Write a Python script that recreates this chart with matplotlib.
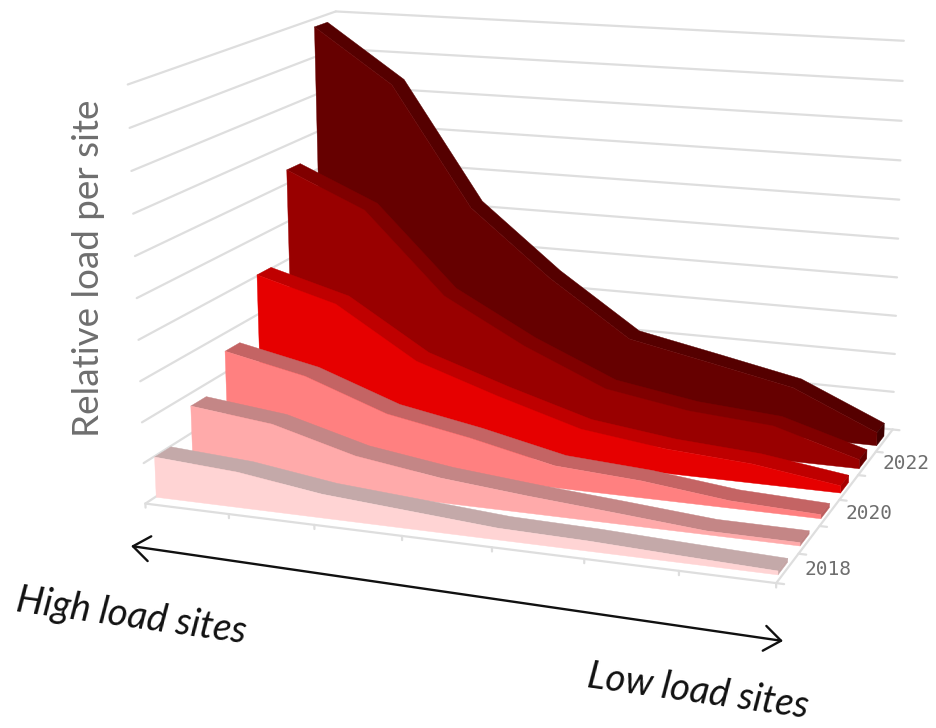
import numpy as np
import matplotlib
matplotlib.use("Agg")
import matplotlib.pyplot as plt
from mpl_toolkits.mplot3d.art3d import Poly3DCollection, Line3DCollection

W, H = 936, 728
years = ["2018", "2019", "2020", "2021", "2022", "2023"]
site_index = [0, 1, 2, 3, 4, 5, 6, 7]
load_2018 = [1.0, 0.87, 0.58, 0.43, 0.28, 0.24, 0.16, 0.09]
load_2019 = [1.7, 1.47, 0.91, 0.61, 0.42, 0.26, 0.09, 0.08]
load_2020 = [2.56, 2.13, 1.39, 1.01, 0.55, 0.42, 0.18, 0.1]
load_2021 = [4.05, 3.48, 2.2, 1.51, 0.89, 0.62, 0.48, 0.18]
load_2022 = [6.38, 5.48, 3.4, 2.28, 1.37, 1.02, 0.86, 0.23]
load_2023 = [9.81, 8.4, 5.29, 3.59, 2.16, 1.73, 1.29, 0.34]
values = [load_2018, load_2019, load_2020, load_2021, load_2022, load_2023]

front_colors = ["#FFD4D4", "#FFAAAA", "#FF8080", "#E60000", "#990000", "#660000"]
top_colors = ["#C4A9A9", "#C48686", "#C46464", "#BF0000", "#800000", "#550000"]
side_colors = ["#C4A5A5", "#BE8080", "#BC5E5E", "#A80000", "#660000", "#3F0000"]
FRONT, BACK = 0.27, 0.7
X_SCALE = 6.95 / 7

# camera: world (site, year, load) -> pixel, fitted from the box corners and ticks
cal = [((0,0,0),(146,503)),((1,0,0),(229,515)),((2,0,0),(314,526)),((3,0,0),(402,537)),((4,0,0),(490,548)),((5,0,0),(583,560)),((6,0,0),(677,572)),((7,0,0),(775,582)),
((7,1,0),(800,553)),((7,2,0),(822,525)),((7,3,0),(840,499)),((7,4,0),(857,475)),((7,5,0),(875,452)),((7,6,0),(892,431)),
((7,6,10),(903,43)),((7,6,9),(903,83)),((7,6,8),(902,122)),((7,6,7),(901,160)),((7,6,6),(900,199)),((7,6,5),(899,237)),((7,6,4),(897,275)),((7,6,3),(896,315)),((7,6,2),(895,353)),((7,6,1),(894,392)),
((0,0,10),(128,83)),((0,0,9),(130,127)),((0,0,8),(131,171)),((0,0,7),(133,213)),((0,0,6),(135,256)),((0,0,5),(136,298)),((0,0,4),(139,340)),((0,0,3),(141,381)),((0,0,2),(143,423)),((0,0,1),(145,463)),
((0,6,10),(335,12)),((0,6,9),(336,48)),((0,6,8),(337,86))]
rows = []; rhs = []
for (x, y, z), (u, v) in cal:
    rows.append([x, y, z, 1, 0, 0, 0, 0, -u*x, -u*y, -u*z]); rhs.append(u)
    rows.append([0, 0, 0, 0, x, y, z, 1, -v*x, -v*y, -v*z]); rhs.append(v)
sol = np.linalg.lstsq(np.array(rows, float), np.array(rhs, float), rcond=None)[0]
P = np.append(sol, 1).reshape(3, 4)

fig = plt.figure(figsize=(W/100, H/100), dpi=100)
ax = fig.add_subplot(projection='3d', computed_zorder=False)
ax.set_position([0, -(W-H)/2/H, 1, W/H])
ax.set_axis_off()

def get_proj():
    A = ax.transData.inverted().get_matrix()
    F = np.array([[1, 0, 0], [0, -1, H], [0, 0, 1]], float)
    h = A @ F @ P
    return np.array([h[0], h[1], [0, 0.01, 0, 0], h[2]])
ax.get_proj = get_proj

GRID = "#DEDEDE"
segments = []
for z in range(0, 11):
    segments.append([(0, 0, z), (0, 6, z)])
    segments.append([(0, 6, z), (7, 6, z)])
segments.append([(0, 0, 0), (7, 0, 0)])
segments.append([(7, 0, 0), (7, 6, 0)])
for x in range(8):
    segments.append([(x, 0, 0), (x, 0, -0.1)])
for y in range(7):
    segments.append([(7, y, 0), (7.08, y, 0)])
grid = Line3DCollection(segments, colors=GRID, linewidths=1.6, zorder=1, capstyle='round')
ax.add_collection3d(grid, autolim=False)

xs = np.array(site_index) * X_SCALE
xe = xs[-1]
zo = 2
for s in range(5, -1, -1):
    z = np.array(values[s]); yf = s + FRONT; yb = s + BACK
    polys = [([*zip(xs, [yb]*8, z), *zip(xs[::-1], [yf]*8, z[::-1])], top_colors[s]),
             ([(xe, yf, 0), (xe, yb, 0), (xe, yb, z[-1]), (xe, yf, z[-1])], side_colors[s]),
             ([*zip(xs, [yf]*8, z), (xe, yf, 0), (0, yf, 0)], front_colors[s])]
    for v, c in polys:
        p = Poly3DCollection([v], facecolor=c, edgecolor=c, linewidth=0.3, zorder=zo)
        ax.add_collection3d(p, autolim=False)
        zo += 1

for s in (0, 2, 4):
    q = P @ np.array([7.17, s + 0.5, 0, 1])
    fig.text(q[0]/q[2]/W, 1 - (q[1]/q[2] - 1)/H, years[s], family="DejaVu Sans Mono", fontsize=14,
             color="#6E6E6E", ha='left', va='center')

fig.text(89/W, 1-268/H, "Relative load per site", rotation=90, fontsize=26.5, family="Lato",
         color="#6E6E6E", ha='center', va='center')
fig.text(131/W, 1-616/H, "High load sites", rotation=-8, fontsize=27.5, family="Lato", style='italic',
         color="#111111", ha='center', va='center', rotation_mode='anchor')
fig.text(698/W, 1-692/H, "Low load sites", rotation=-8, fontsize=27.5, family="Lato", style='italic',
         color="#111111", ha='center', va='center', rotation_mode='anchor')
ax.annotate("", xy=(783, H-641), xytext=(131, H-546), xycoords='figure pixels', textcoords='figure pixels',
            arrowprops=dict(arrowstyle='<->,head_length=1.2,head_width=0.9', color="#111111", lw=1.7,
                            shrinkA=0, shrinkB=0), annotation_clip=False)
fig.savefig("out.png", dpi=100)
